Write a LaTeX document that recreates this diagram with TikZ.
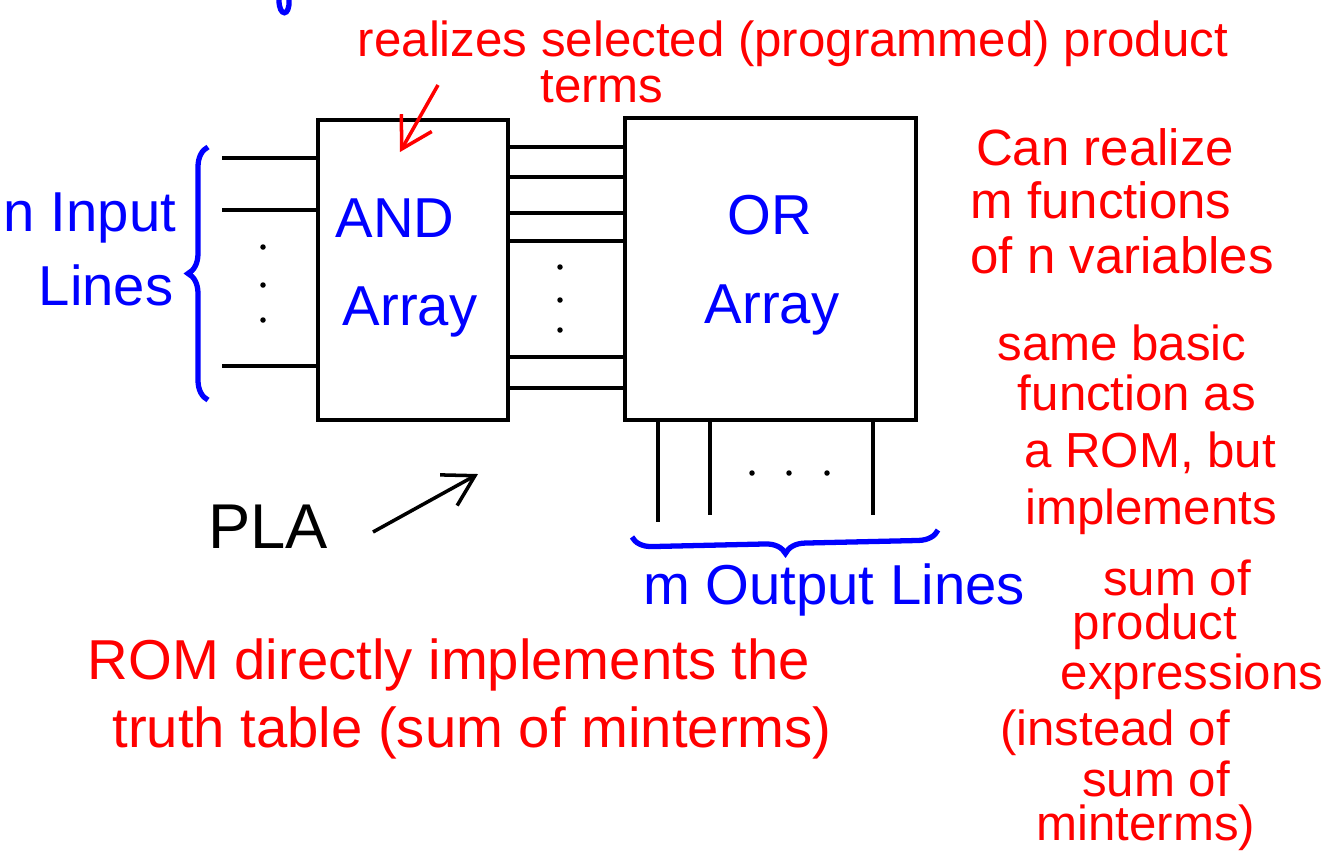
\documentclass[tikz,border=0pt]{standalone}
\usepackage{fontspec}
\setmainfont{Liberation Sans}
\usetikzlibrary{arrows.meta,decorations.pathreplacing}
\definecolor{penred}{RGB}{255,0,0}
\definecolor{penblue}{RGB}{0,0,255}
\tikzset{
  note/.style={text=penred, font=\fontsize{14}{16}\selectfont, inner sep=0pt},
  bignote/.style={note, font=\fontsize{14.5}{17}\selectfont},
  bluenote/.style={text=penblue, font=\fontsize{16}{18}\selectfont, inner sep=0pt},
  arraybox/.style={draw, line width=1pt, inner sep=0pt},
  wire/.style={line width=1pt},
  blob/.style={circle, fill, inner sep=0pt, minimum size=0.055cm},
  pen/.style={penblue, line width=1.5pt, decorate, decoration={brace, amplitude=0.2cm}},
}
\begin{document}
\begin{tikzpicture}[x=0.01cm, y=-0.01cm, >={Straight Barb[length=3mm, width=3.5mm]}]
\useasboundingbox (0,0) rectangle (1329,853);
% the two arrays
\node[arraybox, minimum width=1.9cm, minimum height=3cm] (and) at (413,270) {};
\node[arraybox, minimum width=2.91cm, minimum height=3.02cm] (or) at (770.5,269) {};
\node[bluenote] (andtxt) at (395,218) {AND};
\node[bluenote] (andarr) at (410,312) {Array};
\node[bluenote] (ortxt) at (770,215) {OR};
\node[bluenote] (orarr) at (772,310) {Array};

% input lines
\foreach \y [count=\i] in {158,210,366} {
  \coordinate (in\i) at (222,\y);
  \draw[wire] (in\i) -- (in\i -| and.west);
}
\foreach \y in {247,285,320} \node[blob] (ind\y) at (263,\y) {};

% product term lines
\foreach \y [count=\i] in {147,177,213,241,357,388} {
  \coordinate (mid\i) at (560,\y);
  \draw[wire] (and.east |- mid\i) -- (or.west |- mid\i);
}
\foreach \y in {267,300,330} \node[blob] (midd\y) at (560,\y) {};

% output lines
\foreach \x/\e [count=\i] in {658/522,710/515,873/515} {
  \coordinate (out\i) at (\x,\e);
  \draw[wire] (or.south -| out\i) -- (out\i);
}
\foreach \x in {752,789,827} \node[blob] (outd\x) at (\x,473) {};

% braces
\draw[pen] (208,400) -- (208,147);
\draw[pen] (938,530) -- (632,537);
\draw[penblue, line width=1.5pt] (279,0) .. controls (279,17) and (290,17) .. (289,0);
\node[bluenote] (nin) at (90,218) {n Input};
\node[bluenote] (ninl) at (106,285) {Lines};
\node[bluenote] (mout) at (834,590) {m Output Lines};

% PLA
\node[font=\fontsize{18}{22}\selectfont, inner sep=0pt] (pla) at (268,527) {PLA};
\coordinate (platail) at (373,532);
\coordinate (plahead) at (478,474);
\draw[wire, ->] (platail) -- (plahead);

% notes
\node[note] (realize) at (793,44) {realizes selected (programmed) product};
\node[note] (terms) at (602,87) {terms};
\coordinate (rtail) at (438,85);
\coordinate (rhead) at (400,152);
\draw[wire, penred, ->] (rtail) -- (rhead);

\node[bignote] (r1) at (1105,147) {Can realize};
\node[bignote] (r2) at (1101,200) {m functions};
\node[bignote] (r3) at (1122,255) {of n variables};
\node[note] (r4) at (1122,343) {same basic};
\node[note] (r5) at (1137,393) {function as};
\node[note] (r6) at (1150,453) {a ROM, but};
\node[note] (r7) at (1151,512) {implements};
\node[note] (r8) at (1177,578) {sum of};
\node[note] (r9) at (1155,627) {product};
\node[note] (r10) at (1192,677) {expressions};
\node[note] (r11) at (1115,733) {(instead of};
\node[note] (r12) at (1156,779) {sum of};
\node[note] (r13) at (1146,828) {minterms)};

\node[note, font=\fontsize{16}{18}\selectfont] (rom1) at (449,665) {ROM directly implements the};
\node[note, font=\fontsize{16}{18}\selectfont] (rom2) at (472,733) {truth table (sum of minterms)};
\end{tikzpicture}
\end{document}
